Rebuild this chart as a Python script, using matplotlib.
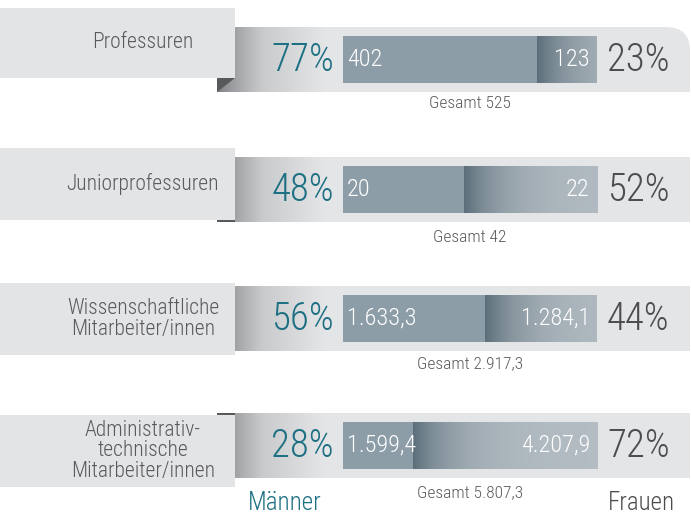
import numpy as np
import matplotlib
matplotlib.use("Agg")
import matplotlib.pyplot as plt
from matplotlib import font_manager as fm
from matplotlib.patches import Rectangle, Polygon, PathPatch
from matplotlib.path import Path
from matplotlib.colors import LinearSegmentedColormap, to_rgb

# ---------------- data ----------------
categories = ["Professuren", "Juniorprofessuren",
              "Wissenschaftliche\nMitarbeiter/innen",
              "Administrativ-\ntechnische\nMitarbeiter/innen"]
men = [402, 20, 1633.3, 1599.4]
women = [123, 22, 1284.1, 4207.9]
totals = [525, 42, 2917.3, 5807.3]
decimals = [0, 0, 1, 1]
legend_labels = ["Männer", "Frauen"]

# ---------------- fonts ----------------
names = {f.name for f in fm.fontManager.ttflist}
FONT = "DejaVu Sans"
for cand in ["Roboto Condensed", "Liberation Sans Narrow", "DejaVu Sans Condensed"]:
    if cand in names:
        FONT = cand
        break
plt.rcParams["font.family"] = [FONT, "DejaVu Sans"]
plt.rcParams["font.weight"] = "light"


def de(v, d):
    s = f"{v:,.{d}f}"
    return s.replace(",", "X").replace(".", ",").replace("X", ".")


# ---------------- style / layout ----------------
BAND = "#e4e5e7"
LABELBOX = "#e3e4e6"
MALE = "#8c9da8"
F_DARK = np.array(to_rgb("#5b6e79"))
F_LIGHT = np.array(to_rgb("#b4bdc4"))
TEAL = "#1d7083"
GREY = "#4d4d4f"
TXT = "#5a5a5c"

band_top = [27, 157, 286, 413]
band_h = 65
label_box = [(8, 78), (148, 220), (283, 355), (415, 487)]
BAND_X0, BAND_X1 = 217, 690
BAR_X0, BAR_W = 343, 254

fig = plt.figure(figsize=(6.91, 5.15), dpi=100)
ax = fig.add_axes([0, 0, 1, 1])
ax.axis("off")

grad_cmap = LinearSegmentedColormap.from_list("bandgrad", ["#7c7d80", "#c9cacc", BAND])

for i, cat in enumerate(categories):
    bt = band_top[i]
    # band
    if i == 0:
        r = 24
        verts = [(BAND_X0, bt), (BAND_X1 - r, bt), (BAND_X1, bt), (BAND_X1, bt + r),
                 (BAND_X1, bt + band_h), (BAND_X0, bt + band_h), (BAND_X0, bt)]
        codes = [Path.MOVETO, Path.LINETO, Path.CURVE3, Path.CURVE3,
                 Path.LINETO, Path.LINETO, Path.CLOSEPOLY]
        band = PathPatch(Path(verts, codes), fc=BAND, ec="none", zorder=1)
    else:
        band = Rectangle((BAND_X0, bt), BAND_X1 - BAND_X0, band_h, fc=BAND, ec="none", zorder=1)
    ax.add_patch(band)
    g = np.linspace(0, 1, 200) ** 0.8
    im = ax.imshow(g[None, :], extent=[BAND_X0, 325, bt + band_h, bt], aspect="auto",
                   cmap=grad_cmap, zorder=1.5, interpolation="bilinear")
    im.set_clip_path(band)

    # label box
    ly0, ly1 = label_box[i]
    ax.add_patch(Rectangle((0, ly0), 235, ly1 - ly0, fc=LABELBOX, ec="none", zorder=3))
    if i == 0:
        ax.add_patch(Polygon([(BAND_X0, ly1), (235, ly1), (BAND_X0, bt + band_h)],
                             fc="#58595b", ec="none", zorder=2.5))
    elif i == 1:
        ax.add_patch(Rectangle((BAND_X0, ly1), 235 - BAND_X0, 2, fc="#58595b", ec="none", zorder=2.5))
    elif i == 3:
        ax.add_patch(Rectangle((BAND_X0, bt), 235 - BAND_X0, 2, fc="#58595b", ec="none", zorder=2.5))
    ax.text(143, (ly0 + ly1) / 2, cat, ha="center", va="center", fontsize=15.5,
            color=TXT, linespacing=0.95, zorder=4)

    # bars
    tot = men[i] + women[i]
    yc = bt + band_h / 2
    bh = 47
    scale = BAR_W / tot
    bm = ax.barh(yc, men[i] * scale, left=BAR_X0, height=bh, color=MALE, zorder=5)[0]
    bw = ax.barh(yc, women[i] * scale, left=BAR_X0 + men[i] * scale, height=bh,
                 color=tuple(F_LIGHT), zorder=5)[0]
    wx0, ww = bw.get_x(), bw.get_width()
    d = np.linspace(0, ww, 300)
    f = np.exp(-d / 40.0)
    cols = F_LIGHT[None, :] + (F_DARK - F_LIGHT)[None, :] * f[:, None]
    im2 = ax.imshow(cols[None, :, :], extent=[wx0, wx0 + ww, yc + bh / 2, yc - bh / 2],
                    aspect="auto", zorder=5.5, interpolation="bilinear")
    im2.set_clip_path(bw)

    # value labels
    ax.text(BAR_X0 + 4, yc, de(men[i], decimals[i]), ha="left", va="center",
            fontsize=17.5, color="white", zorder=6)
    ax.text(BAR_X0 + BAR_W - 7, yc, de(women[i], decimals[i]), ha="right", va="center",
            fontsize=17.5, color="white", zorder=6)

    # percentages
    pm = round(100 * men[i] / tot)
    ax.text(334, yc + 1, f"{pm}%", ha="right", va="center", fontsize=28, color=TEAL, zorder=6)
    ax.text(607, yc + 1, f"{100 - pm}%", ha="left", va="center", fontsize=28, color=GREY, zorder=6)

    # total
    gy = [103, 237, 364, 493][i]
    ax.text(BAR_X0 + BAR_W / 2, gy, "Gesamt " + de(totals[i], decimals[i]), ha="center",
            va="center", fontsize=12.5, color=TXT, zorder=6)

ax.text(285, 503, legend_labels[0], ha="center", va="center", fontsize=18, color=TEAL)
ax.text(641, 503, legend_labels[1], ha="center", va="center", fontsize=18, color=GREY)

ax.set_xlim(0, 691)
ax.set_ylim(515, 0)
fig.savefig("out.png", dpi=100)
